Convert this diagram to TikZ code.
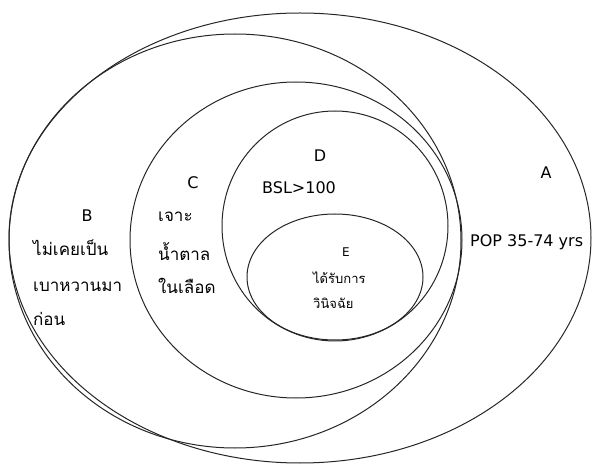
\documentclass[tikz,border=0pt]{standalone}
\usepackage{fontspec}
\setmainfont{DejaVu Sans}
\newfontfamily\thaifont[Script=Thai]{Loma}
\begin{document}
\begin{tikzpicture}[x=1pt,y=-1pt,
  ring/.style={draw=black!85,line width=1pt},
  lbl/.style={inner sep=0pt,font=\fontsize{16}{18}\selectfont},
  small/.style={inner sep=0pt,font=\fontsize{12}{14}\selectfont},
  thai/.style={inner sep=0pt,anchor=west,font=\thaifont\fontsize{17}{20}\selectfont},
  thaismall/.style={inner sep=0pt,anchor=west,font=\thaifont\fontsize{13}{15}\selectfont}]
\useasboundingbox (0,0) rectangle (595,465);
% nested sets
\draw[ring] (300,238) ellipse [x radius=291, y radius=225];
\draw[ring] (235,241) ellipse [x radius=226, y radius=207];
\draw[ring] (296,240) ellipse [x radius=166, y radius=158];
\draw[ring] (335,226) ellipse [x radius=113, y radius=115];
\draw[ring] (335,277) ellipse [x radius=88, y radius=63];
% A
\node[lbl] (la) at (546,173) {A};
\node[lbl,anchor=west] (pa) at (470,242) {POP 35-74 yrs};
% B
\node[lbl] (lb) at (87,216) {B};
\node[thai] (b1) at (33,248) {ไม่เคยเป็น};
\node[thai] (b2) at (33,287) {เบาหวานมา};
\node[thai] (b3) at (33,319) {ก่อน};
% C
\node[lbl] (lc) at (193,183) {C};
\node[thai] (c1) at (158,217) {เจาะ};
\node[thai] (c2) at (158,252) {น้ำตาล};
\node[thai] (c3) at (158,286) {ในเลือด};
% D
\node[lbl] (ld) at (320,156) {D};
\node[lbl,anchor=west] (pd) at (262,188) {BSL>100};
% E
\node[small] (le) at (346,252) {E};
\node[thaismall] (e1) at (313,278) {ได้รับการ};
\node[thaismall] (e2) at (313,303) {วินิจฉัย};
\end{tikzpicture}
\end{document}
